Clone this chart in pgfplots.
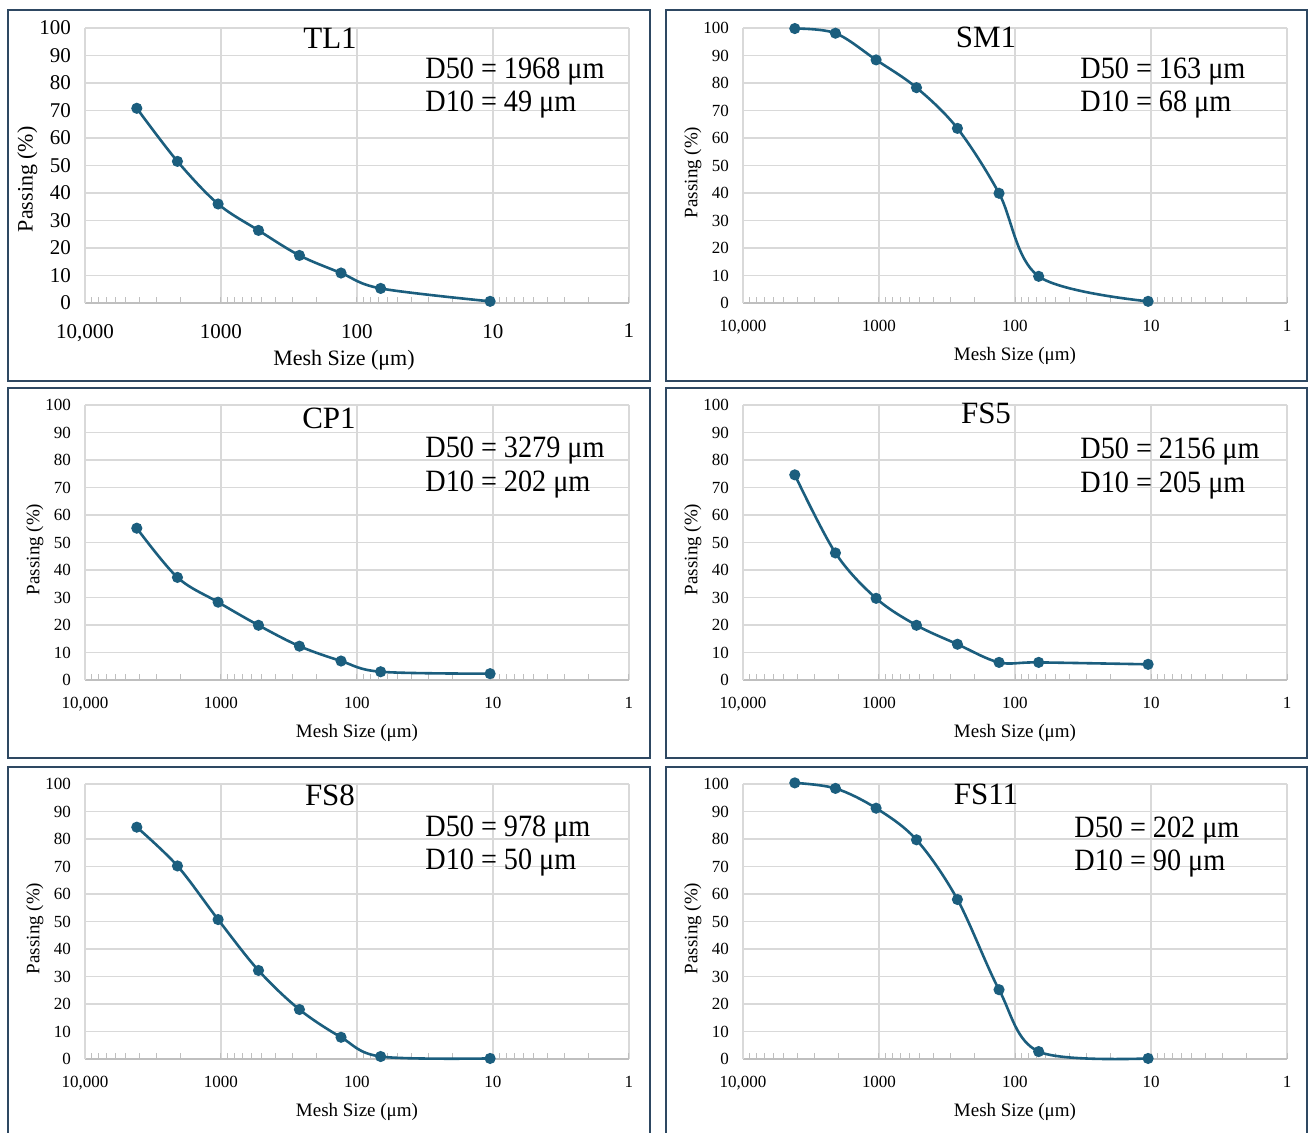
\documentclass[border=0pt]{standalone}
\usepackage{pgfplots}
\pgfplotsset{compat=1.18}
\usepackage{fontspec}
\setmainfont{Liberation Serif}
\newfontfamily\condfont[FakeStretch=0.91]{Liberation Serif}

\definecolor{lineC}{RGB}{27,94,126}
\definecolor{boxC}{RGB}{46,72,98}
\definecolor{gridC}{RGB}{217,217,217}
\definecolor{axisC}{RGB}{191,191,191}

\pgfplotsset{
  psd/.style={
    scale only axis, width=272pt, height=137.5pt,
    x dir=reverse, xmin=1, xmax=10000, ymin=0, ymax=100,
    xtick={1,10,100,1000,10000}, xticklabels={1,10,100,1000,{10,000}},
    ytick={0,10,...,100},
    axis x line*=bottom, axis y line*=left,
    x axis line style={draw=axisC, line width=0.7pt},
    y axis line style={draw=gridC, line width=0.6pt},
    xmajorgrids, ymajorgrids,
    major grid style={draw=gridC, line width=0.6pt},
    major tick length=0pt, minor tick length=3pt,
    tick align=inside,
    minor tick style={draw=axisC, line width=0.5pt},
    /pgf/number format/assume math mode=true,
    xlabel={Mesh Size (μm)}, ylabel={Passing (\%)},
    clip=false,
  },
  psdbig/.style={
    ticklabel style={font=\fontsize{10.5}{12}\selectfont},
    xticklabel style={yshift=-7pt},
    yticklabel style={xshift=-3.5pt},
    label style={font=\fontsize{11}{13}\selectfont},
    xlabel style={at={(axis description cs:0.476,-0.207)}, anchor=center},
    ylabel style={at={(axis description cs:-0.106,0.45)}, anchor=center},
  },
  psdsmall/.style={
    ticklabel style={font=\fontsize{8.5}{10}\selectfont},
    xticklabel style={yshift=-5pt},
    yticklabel style={xshift=-3.5pt},
    label style={font=\fontsize{9.5}{11}\selectfont},
    xlabel style={at={(axis description cs:0.5,-0.193)}, anchor=center},
    ylabel style={at={(axis description cs:-0.092,0.475)}, anchor=center},
  },
  curve/.style={color=lineC, line width=1.3pt, smooth, tension=0.55,
    mark=*, mark size=2.1pt, mark options={fill=lineC}},
}
\tikzset{
  ttl/.style={font=\fontsize{15.5}{18}\selectfont},
  dval/.style={anchor=west, inner sep=0pt, font=\condfont\fontsize{15.5}{18}\selectfont},
  frame/.style={boxC, line width=0.8pt},
}

\begin{document}
\begin{tikzpicture}
\useasboundingbox (0pt,0pt) rectangle (654pt,-566.5pt);

% panel frames
\draw[frame] (4pt,-5pt) rectangle (325pt,-190.5pt);
\draw[frame] (333pt,-5pt) rectangle (653.5pt,-190.5pt);
\draw[frame] (4pt,-194pt) rectangle (325pt,-379pt);
\draw[frame] (333pt,-194pt) rectangle (653.5pt,-379pt);
\draw[frame] (4pt,-572.5pt) -- (4pt,-383.5pt) -- (325pt,-383.5pt) -- (325pt,-572.5pt);
\draw[frame] (333pt,-572.5pt) -- (333pt,-383.5pt) -- (653.5pt,-383.5pt) -- (653.5pt,-572.5pt);

% TL1
\begin{semilogxaxis}[psd, psdbig, at={(42.5pt,-151.5pt)}, anchor=south west]
\addplot[curve] coordinates {(4160,70.8) (2090,51.5) (1050,36.0) (530,26.4) (265,17.3) (131,10.9) (67,5.3) (10.5,0.6)};
\end{semilogxaxis}
\node[ttl] at (165pt,-19pt) {TL1};
\node[dval] at (212.5pt,-36pt) {D50 = 1968 μm};
\node[dval] at (212.5pt,-52.5pt) {D10 = 49 μm};

% SM1
\begin{semilogxaxis}[psd, psdsmall, at={(371.5pt,-151.5pt)}, anchor=south west]
\addplot[curve] coordinates {(4160,99.8) (2090,98.1) (1050,88.4) (530,78.3) (265,63.5) (131,39.9) (67,9.7) (10.5,0.6)};
\end{semilogxaxis}
\node[ttl] at (493pt,-18.5pt) {SM1};
\node[dval] at (540pt,-36pt) {D50 = 163 μm};
\node[dval] at (540pt,-52.5pt) {D10 = 68 μm};

% CP1
\begin{semilogxaxis}[psd, psdsmall, at={(42.5pt,-340pt)}, anchor=south west]
\addplot[curve] coordinates {(4160,55.2) (2090,37.3) (1050,28.3) (530,19.9) (265,12.3) (131,6.9) (67,3.0) (10.5,2.3)};
\end{semilogxaxis}
\node[ttl] at (164.5pt,-209pt) {CP1};
\node[dval] at (212.5pt,-225.5pt) {D50 = 3279 μm};
\node[dval] at (212.5pt,-242.5pt) {D10 = 202 μm};

% FS5
\begin{semilogxaxis}[psd, psdsmall, at={(371.5pt,-340pt)}, anchor=south west]
\addplot[curve] coordinates {(4160,74.6) (2090,46.2) (1050,29.7) (530,19.9) (265,13.0) (131,6.4) (67,6.4) (10.5,5.7)};
\end{semilogxaxis}
\node[ttl] at (493pt,-206.5pt) {FS5};
\node[dval] at (540pt,-226pt) {D50 = 2156 μm};
\node[dval] at (540pt,-243pt) {D10 = 205 μm};

% FS8
\begin{semilogxaxis}[psd, psdsmall, at={(42.5pt,-529.5pt)}, anchor=south west]
\addplot[curve] coordinates {(4160,84.3) (2090,70.2) (1050,50.7) (530,32.2) (265,18.0) (131,7.9) (67,0.9) (10.5,0.2)};
\end{semilogxaxis}
\node[ttl] at (165pt,-397.5pt) {FS8};
\node[dval] at (212.5pt,-415pt) {D50 = 978 μm};
\node[dval] at (212.5pt,-431.5pt) {D10 = 50 μm};

% FS11
\begin{semilogxaxis}[psd, psdsmall, at={(371.5pt,-529.5pt)}, anchor=south west]
\addplot[curve] coordinates {(4160,100.4) (2090,98.4) (1050,91.2) (530,79.7) (265,58.0) (131,25.2) (67,2.7) (10.5,0.2)};
\end{semilogxaxis}
\node[ttl] at (493pt,-397pt) {FS11};
\node[dval] at (537pt,-415.5pt) {D50 = 202 μm};
\node[dval] at (537pt,-432pt) {D10 = 90 μm};

\end{tikzpicture}
\end{document}
